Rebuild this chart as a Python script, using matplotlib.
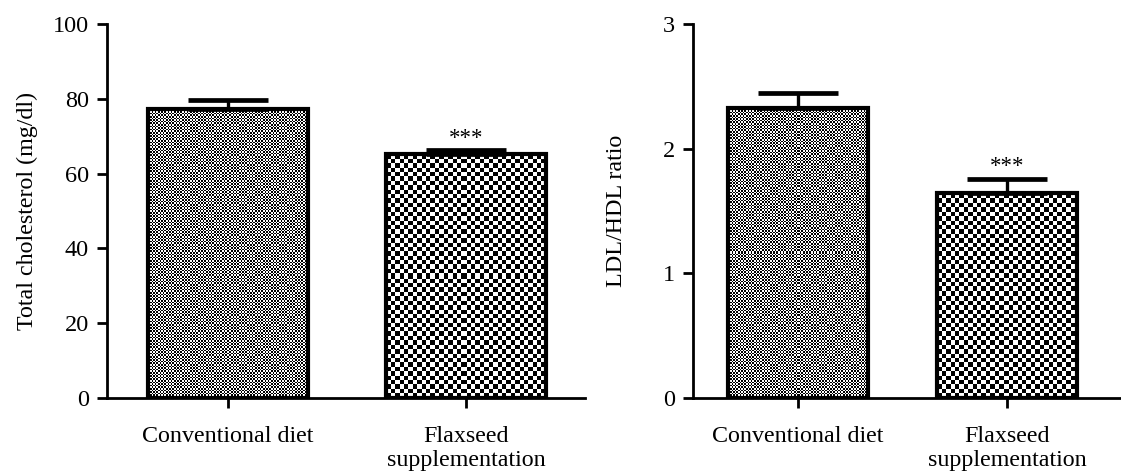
import numpy as np
import matplotlib
matplotlib.use('Agg')
import matplotlib.pyplot as plt

groups = ['Conventional diet', 'Flaxseed\nsupplementation']
chol_mean = [77.2, 65.3]
chol_err = [2.4, 1.0]
ratio_mean = [2.33, 1.645]
ratio_err = [0.12, 0.11]
sig = ['', '***']
chol_ticks = [0, 20, 40, 60, 80, 100]
ratio_ticks = [0, 1, 2, 3]

plt.rcParams['font.family'] = ['Liberation Serif', 'DejaVu Serif']

W, H = 1121, 472
fig = plt.figure(figsize=(W / 100, H / 100), dpi=100)
ax1 = fig.add_axes([107 / W, 74 / H, 478 / W, 374 / H])
ax2 = fig.add_axes([693 / W, 74 / H, 428 / W, 374 / H])


def checker(ax, bar, cell):
    x0, y0 = bar.get_x(), bar.get_y()
    x1, y1 = x0 + bar.get_width(), y0 + bar.get_height()
    (px0, py0), (px1, py1) = ax.transData.transform([(x0, y0), (x1, y1)])
    w = max(int(round(px1 - px0)), 1)
    h = max(int(round(py1 - py0)), 1)
    X, Y = np.meshgrid(np.arange(w), np.arange(h))
    img = (np.floor(X / cell) + np.floor(Y / cell)) % 2
    im = ax.imshow(img, cmap='gray', vmin=0, vmax=1, extent=(x0, x1, y0, y1),
                   origin='lower', interpolation='nearest', aspect='auto', zorder=2)
    im.set_clip_path(bar)


def panel(ax, means, errs, ticks, ylabel, xlim, star_off, labelpad):
    x = np.arange(len(groups))
    ax.set_xlim(*xlim)
    ax.set_ylim(ticks[0], ticks[-1])
    bars = ax.bar(x, means, width=0.67, facecolor='white', edgecolor='none', zorder=1)
    for b, c in zip(bars, [1.6, 4.4]):
        checker(ax, b, c)
    ax.bar(x, means, width=0.67, fill=False, edgecolor='black', linewidth=3.0, zorder=3)
    ax.errorbar(x, means, yerr=[np.zeros(len(errs)), errs], fmt='none', ecolor='black',
                elinewidth=2.4, capsize=29, capthick=3.4, zorder=4)
    for xi, m, e, s in zip(x, means, errs, sig):
        if s:
            ax.text(xi, m + e + star_off, s, ha='center', va='baseline', fontsize=16.5)
    ax.set_xlim(*xlim)
    ax.set_ylim(ticks[0], ticks[-1])
    ax.set_yticks(ticks)
    ax.set_xticks(x)
    ax.set_xticklabels(groups, linespacing=1.22)
    ax.set_ylabel(ylabel, fontsize=17.3, labelpad=labelpad)
    for sp in ['top', 'right']:
        ax.spines[sp].set_visible(False)
    for sp in ['left', 'bottom']:
        ax.spines[sp].set_linewidth(2.0)
    ax.tick_params(axis='y', direction='out', length=7, width=2.0, labelsize=17.5, pad=6)
    ax.tick_params(axis='x', direction='out', length=7, width=2.0, labelsize=17.3, pad=13)


panel(ax1, chol_mean, chol_err, chol_ticks, 'Total cholesterol (mg/dl)', (-0.508, 1.5), 1.6, 11)
panel(ax2, ratio_mean, ratio_err, ratio_ticks, 'LDL/HDL ratio', (-0.502, 1.545), 0.06, 26)

fig.savefig('out.png', dpi=100)
